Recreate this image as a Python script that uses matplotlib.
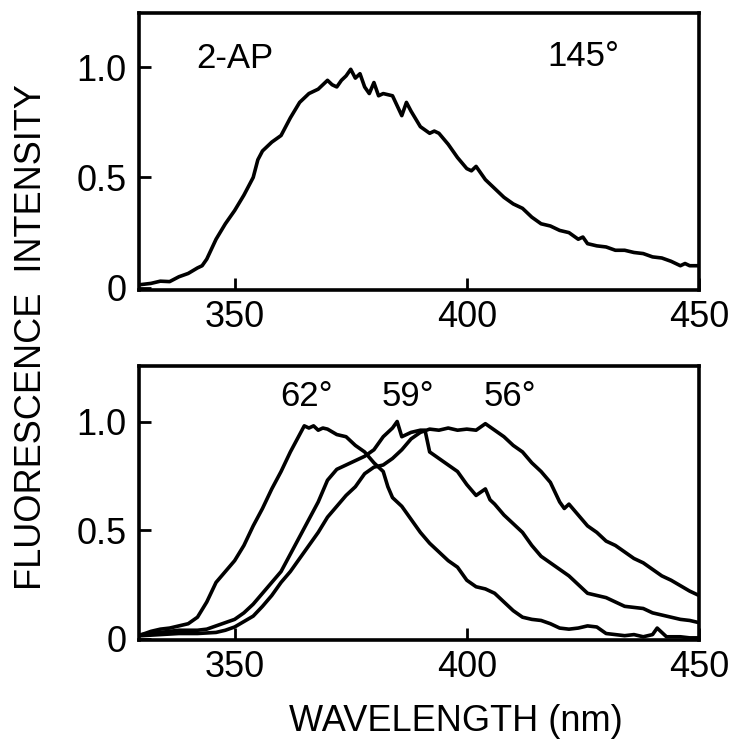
import matplotlib
matplotlib.use("Agg")
import matplotlib.pyplot as plt

# 2-AP emission spectrum, 145 deg (top panel)
wl_145 = [330, 332, 334, 336, 338, 340, 342, 343, 344, 346, 348, 350, 352, 354, 355, 356,
          358, 360, 362, 364, 366, 368, 370, 371, 372, 373, 374, 375, 376, 377, 378, 379,
          380, 381, 382, 384, 386, 387, 388, 390, 392, 393, 394, 396, 398, 400, 401, 402,
          404, 406, 408, 410, 412, 414, 416, 418, 420, 422, 424, 425, 426, 428, 430, 432,
          434, 436, 438, 440, 442, 444, 446, 447, 448, 450]
int_145 = [0.015, 0.02, 0.03, 0.028, 0.05, 0.065, 0.09, 0.10, 0.13, 0.22, 0.29, 0.35, 0.42, 0.50,
           0.58, 0.62, 0.66, 0.69, 0.77, 0.84, 0.88, 0.90, 0.94, 0.92, 0.91, 0.94, 0.96, 0.99,
           0.95, 0.97, 0.91, 0.88, 0.93, 0.87, 0.88, 0.87, 0.78, 0.84, 0.80, 0.73, 0.70, 0.71,
           0.70, 0.65, 0.59, 0.54, 0.53, 0.55, 0.49, 0.45, 0.41, 0.38, 0.36, 0.32, 0.29, 0.28,
           0.26, 0.25, 0.22, 0.23, 0.20, 0.19, 0.185, 0.17, 0.17, 0.16, 0.155, 0.14, 0.135,
           0.12, 0.10, 0.11, 0.10, 0.10]

# bottom panel, three angles
wl_62 = [330, 332, 334, 336, 338, 340, 342, 344, 346, 348, 350, 352, 354, 356, 358, 360,
         362, 364, 365, 366, 367, 368, 369, 370, 372, 374, 376, 378, 380, 382, 383, 384,
         386, 388, 390, 392, 394, 396, 398, 400, 402, 404, 406, 408, 410, 412, 414, 416,
         418, 420, 422, 424, 426, 428, 430, 432, 434, 436, 438, 440, 441, 442, 443, 444,
         446, 448, 450]
int_62 = [0.02, 0.035, 0.045, 0.05, 0.06, 0.07, 0.10, 0.17, 0.26, 0.31, 0.36, 0.43, 0.52,
          0.60, 0.69, 0.77, 0.86, 0.94, 0.98, 0.97, 0.98, 0.96, 0.97, 0.965, 0.94, 0.93, 0.89,
          0.86, 0.81, 0.77, 0.70, 0.65, 0.61, 0.55, 0.49, 0.44, 0.40, 0.36, 0.33, 0.27, 0.24,
          0.23, 0.21, 0.17, 0.13, 0.10, 0.09, 0.085, 0.07, 0.05, 0.045, 0.05, 0.06, 0.055,
          0.025, 0.02, 0.015, 0.02, 0.01, 0.02, 0.05, 0.03, 0.01, 0.01, 0.01, 0.005, 0.005]

wl_59 = [330, 332, 334, 336, 338, 340, 342, 344, 346, 348, 350, 352, 354, 356, 358, 360,
         362, 364, 366, 368, 370, 372, 374, 376, 378, 380, 382, 384, 385, 386, 388, 390,
         391, 392, 394, 396, 398, 400, 402, 404, 405, 406, 408, 410, 412, 414, 416, 418,
         420, 422, 424, 426, 428, 430, 432, 434, 436, 438, 440, 442, 444, 446, 448, 450]
int_59 = [0.02, 0.025, 0.03, 0.035, 0.04, 0.04, 0.04, 0.045, 0.06, 0.075, 0.09, 0.12, 0.16,
          0.21, 0.26, 0.31, 0.39, 0.47, 0.55, 0.63, 0.73, 0.78, 0.80, 0.82, 0.84, 0.87, 0.93,
          0.97, 1.0, 0.93, 0.95, 0.96, 0.96, 0.86, 0.83, 0.80, 0.77, 0.71, 0.66, 0.69, 0.64,
          0.62, 0.57, 0.53, 0.49, 0.43, 0.38, 0.35, 0.32, 0.29, 0.25, 0.21, 0.20, 0.19, 0.17,
          0.15, 0.145, 0.14, 0.12, 0.11, 0.10, 0.09, 0.085, 0.075]

wl_56 = [330, 334, 338, 342, 346, 348, 350, 352, 354, 356, 358, 360, 362, 364, 366, 368,
         370, 372, 374, 376, 378, 380, 382, 384, 386, 388, 390, 392, 394, 396, 398, 400,
         402, 404, 406, 408, 410, 412, 414, 416, 418, 420, 421, 422, 424, 426, 428, 430,
         432, 434, 436, 438, 440, 442, 444, 446, 448, 450]
int_56 = [0.015, 0.02, 0.025, 0.025, 0.03, 0.04, 0.055, 0.08, 0.105, 0.15, 0.20, 0.26, 0.31,
          0.37, 0.43, 0.49, 0.56, 0.61, 0.66, 0.70, 0.76, 0.79, 0.80, 0.83, 0.87, 0.92, 0.95,
          0.965, 0.96, 0.97, 0.96, 0.965, 0.96, 0.99, 0.96, 0.93, 0.89, 0.86, 0.81, 0.77,
          0.72, 0.63, 0.60, 0.62, 0.57, 0.52, 0.49, 0.45, 0.43, 0.40, 0.37, 0.35, 0.32, 0.29,
          0.27, 0.245, 0.22, 0.20]

bottom_series = [(wl_62, int_62), (wl_59, int_59), (wl_56, int_56)]
angle_labels = ["62°", "59°", "56°"]
angle_label_x = [365.5, 387.3, 409.3]

xticks = [350, 400, 450]
yticks = [0, 0.5, 1.0]
ytick_labels = ["0", "0.5", "1.0"]

plt.rcParams["font.family"] = ["Liberation Sans", "DejaVu Sans"]

fig = plt.figure(figsize=(7.42, 7.56), dpi=100)
ax_top = fig.add_axes([0.1873, 0.6164, 0.7547, 0.3664])
ax_bot = fig.add_axes([0.1873, 0.1534, 0.7547, 0.3624])


def style_axis(ax, ylim):
    ax.set_xlim(329.4, 450)
    ax.set_ylim(*ylim)
    ax.set_xticks(xticks)
    ax.set_xticklabels([str(t) for t in xticks])
    ax.set_yticks(yticks)
    ax.set_yticklabels(ytick_labels)
    ax.tick_params(direction="in", length=8.5, width=2.0, labelsize=26,
                   top=False, right=False)
    ax.tick_params(axis="x", pad=7)
    ax.tick_params(axis="y", pad=9)
    for sp in ax.spines.values():
        sp.set_linewidth(2.6)


ax_top.plot(wl_145, int_145, color="black", linewidth=2.6, solid_joinstyle="round")
style_axis(ax_top, (-0.01, 1.245))
ax_top.text(350, 1.037, "2-AP", fontsize=25, ha="center", va="center")
ax_top.text(425.2, 1.05, "145°", fontsize=25, ha="center", va="center")

for wl, inten in bottom_series:
    ax_bot.plot(wl, inten, color="black", linewidth=2.6, solid_joinstyle="round")
style_axis(ax_bot, (-0.005, 1.255))
for lab, x in zip(angle_labels, angle_label_x):
    ax_bot.text(x, 1.115, lab, fontsize=25, ha="center", va="center")

fig.text(0.042, 0.554, "FLUORESCENCE  INTENSITY", rotation=90, fontsize=26,
         ha="center", va="center")
fig.text(0.615, 0.045, "WAVELENGTH (nm)", fontsize=26, ha="center", va="center")

fig.savefig("out.png", dpi=100)
